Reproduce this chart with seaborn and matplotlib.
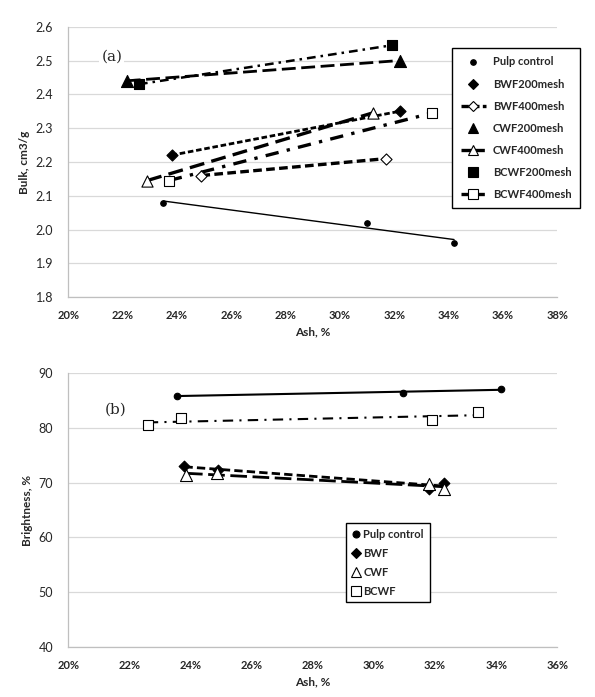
import matplotlib
matplotlib.use("Agg")
import matplotlib.pyplot as plt
import seaborn as sns
from matplotlib.lines import Line2D

# ---- panel (a): bulk vs ash ----
pulp_ash_a = [23.5, 31.0, 34.2]
pulp_bulk = [2.08, 2.02, 1.96]
bwf200_ash = [23.8, 32.2]
bwf200_bulk = [2.22, 2.35]
bwf400_ash = [24.9, 31.7]
bwf400_bulk = [2.16, 2.21]
cwf200_ash = [22.15, 32.2]
cwf200_bulk = [2.44, 2.50]
cwf400_ash = [22.9, 31.2]
cwf400_bulk = [2.145, 2.345]
bcwf200_ash = [22.6, 31.9]
bcwf200_bulk = [2.43, 2.545]
bcwf400_ash = [23.7, 33.4]
bcwf400_bulk = [2.145, 2.345]

# ---- panel (b): brightness vs ash ----
pulp_ash_b = [23.55, 30.95, 34.15]
pulp_bright = [85.8, 86.4, 87.0]
bwf_ash = [23.8, 24.9, 31.8, 32.3]
bwf_bright = [73.1, 72.2, 68.9, 70.0]
cwf_ash = [23.85, 24.85, 31.8, 32.3]
cwf_bright = [71.4, 71.7, 69.7, 68.9]
bcwf_ash = [22.6, 23.7, 31.9, 33.4]
bcwf_bright = [80.5, 81.7, 81.4, 82.8]

sns.set_style("white")
plt.rcParams['font.family'] = ['Lato', 'DejaVu Sans']

fig = plt.figure(figsize=(5.95, 6.97), dpi=100)
ax1 = fig.add_axes([0.1148, 0.5735, 0.8218, 0.3882])
ax2 = fig.add_axes([0.1148, 0.0714, 0.8218, 0.3938])


def draw(ax, x, y, marker, filled, size, ls, lw):
    sns.regplot(
        x=x, y=y, ax=ax, ci=None, marker=marker, color='black',
        scatter_kws=dict(s=size, alpha=1, zorder=4,
                         facecolors='black' if filled else 'white',
                         edgecolors='black', linewidths=0.8),
        line_kws=dict(ls=ls, lw=lw, color='black', zorder=3),
    )


# top panel series
draw(ax1, pulp_ash_a, pulp_bulk, 'o', True, 16, '-', 1.0)
draw(ax1, bwf200_ash, bwf200_bulk, 'D', True, 32, (0, (2.0, 1.0)), 2.0)
draw(ax1, bwf400_ash, bwf400_bulk, 'D', False, 32, (0, (2.6, 1.3)), 2.4)
draw(ax1, cwf200_ash, cwf200_bulk, '^', True, 75, (0, (5, 2)), 2.0)
draw(ax1, cwf400_ash, cwf400_bulk, '^', False, 65, (0, (4.5, 2.2)), 2.4)
draw(ax1, bcwf200_ash, bcwf200_bulk, 's', True, 60, (0, (3.5, 2, 1, 2)), 1.8)
draw(ax1, bcwf400_ash, bcwf400_bulk, 's', False, 60, (0, (4, 2.5, 1, 2.5)), 2.4)

# bottom panel series
draw(ax2, pulp_ash_b, pulp_bright, 'o', True, 22, '-', 1.5)
draw(ax2, bwf_ash, bwf_bright, 'D', True, 30, (0, (3, 1.5)), 2.0)
draw(ax2, cwf_ash, cwf_bright, '^', False, 75, (0, (6, 2)), 2.0)
draw(ax2, bcwf_ash, bcwf_bright, 's', False, 60, (0, (5, 3, 1, 3)), 1.5)

x_ticks_a = [20, 22, 24, 26, 28, 30, 32, 34, 36, 38]
y_ticks_a = [1.8, 1.9, 2.0, 2.1, 2.2, 2.3, 2.4, 2.5, 2.6]
x_ticks_b = [20, 22, 24, 26, 28, 30, 32, 34, 36]
y_ticks_b = [40, 50, 60, 70, 80, 90]

for ax, xt, yt, yfmt, ylab in [
    (ax1, x_ticks_a, y_ticks_a, "{:.1f}", "Bulk, cm3/g"),
    (ax2, x_ticks_b, y_ticks_b, "{:.0f}", "Brightness, %"),
]:
    ax.set_xlim(xt[0], xt[-1])
    ax.set_ylim(yt[0], yt[-1])
    ax.set_xticks(xt)
    ax.set_xticklabels([f"{v}%" for v in xt], fontsize=8, fontweight='bold')
    ax.set_yticks(yt)
    ax.set_yticklabels([yfmt.format(v) for v in yt], fontsize=9)
    ax.tick_params(axis='both', length=0)
    ax.tick_params(axis='x', pad=9)
    ax.tick_params(axis='y', pad=11)
    ax.yaxis.grid(True, color='#d9d9d9', lw=0.9)
    ax.set_axisbelow(True)
    for side in ['top', 'right']:
        ax.spines[side].set_visible(False)
    for side in ['left', 'bottom']:
        ax.spines[side].set_color('#bfbfbf')
        ax.spines[side].set_linewidth(0.9)
    ax.set_xlabel("Ash, %", fontsize=8.5, fontweight='bold', labelpad=4)
    ax.set_ylabel(ylab, fontsize=8.5, fontweight='bold', labelpad=4)

ax1.text(21.6, 2.51, "(a)", family='DejaVu Serif', fontsize=11, ha='center', va='center',
         bbox=dict(facecolor='white', edgecolor='none', pad=1.5), zorder=5)
ax2.text(21.55, 83.2, "(b)", family='DejaVu Serif', fontsize=11, ha='center', va='center',
         zorder=5)


def h(marker, filled, ms, ls='none', lw=2.4):
    return Line2D([], [], color='black', marker=marker, ls=ls, lw=lw, markersize=ms,
                  markerfacecolor='black' if filled else 'white',
                  markeredgecolor='black', markeredgewidth=0.8)


labels_a = ["Pulp control", "BWF200mesh", "BWF400mesh", "CWF200mesh",
            "CWF400mesh", "BCWF200mesh", "BCWF400mesh"]
handles_a = [h('o', True, 4), h('D', True, 5.5), h('D', False, 5.5, (0, (2.2, 1))),
             h('^', True, 7), h('^', False, 7, (0, (3, 1))),
             h('s', True, 7), h('s', False, 7, (0, (3, 1)))]
leg1 = ax1.legend(handles_a, labels_a, loc='upper left', bbox_to_anchor=(0.760, 0.931),
                  bbox_transform=fig.transFigure, borderaxespad=0, frameon=True,
                  fancybox=False, edgecolor='black', framealpha=1, handlelength=2.3,
                  handletextpad=0.6, labelspacing=1.0, borderpad=0.75,
                  prop=dict(size=8, weight='bold'))
leg1.get_frame().set_linewidth(1.0)

labels_b = ["Pulp control", "BWF", "CWF", "BCWF"]
handles_b = [h('o', True, 5), h('D', True, 5), h('^', False, 7), h('s', False, 7)]
leg2 = ax2.legend(handles_b, labels_b, loc='upper left', bbox_to_anchor=(0.581, 0.2496),
                  bbox_transform=fig.transFigure, borderaxespad=0, frameon=True,
                  fancybox=False, edgecolor='black', framealpha=1, handlelength=0.8,
                  handletextpad=0.3, labelspacing=0.72, borderpad=0.5,
                  prop=dict(size=8, weight='bold'))
leg2.get_frame().set_linewidth(1.0)

fig.savefig("out.png", dpi=100)
